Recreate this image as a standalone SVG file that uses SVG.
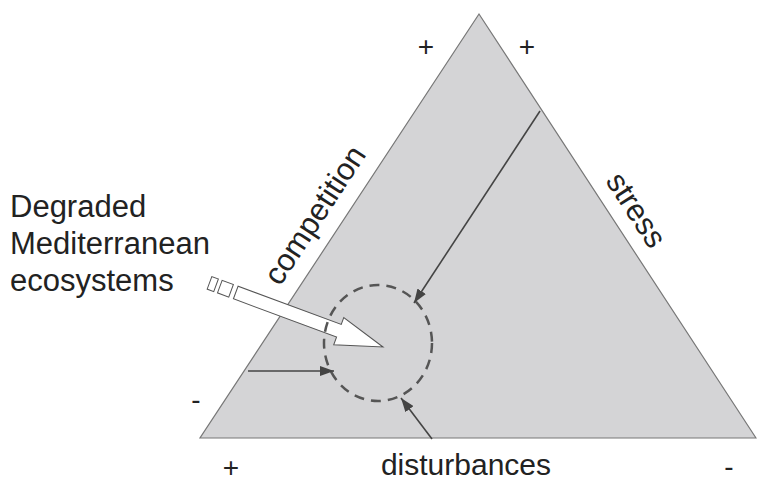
<svg xmlns="http://www.w3.org/2000/svg" width="757" height="482" viewBox="0 0 757 482">
<style>
.lbl{font-family:"Liberation Sans",Arial,sans-serif;fill:#222}
.sgn{font-family:"Liberation Sans",Arial,sans-serif;fill:#222;font-size:28px;text-anchor:middle}
.conn{stroke:#444;stroke-width:1.6;fill:none;marker-end:url(#ah)}
</style>
<defs>
<marker id="ah" viewBox="0 0 14 10" refX="14" refY="5" markerWidth="14" markerHeight="10" markerUnits="userSpaceOnUse" orient="auto">
<path d="M0,0 L14,5 L0,10 Z" fill="#444"/>
</marker>
</defs>
<rect width="757" height="482" fill="#fff"/>
<g id="triangle">
<polygon points="479,14 200,438 756,438" fill="#d4d4d6" stroke="#777" stroke-width="1.2"/>
</g>
<g id="labels">
<text class="lbl" x="10" y="217" font-size="31">Degraded</text>
<text class="lbl" x="10" y="254" font-size="31">Mediterranean</text>
<text class="lbl" x="10" y="291" font-size="31">ecosystems</text>
<text class="lbl" font-size="31" transform="translate(280,287) rotate(-56.7)">competition</text>
<text class="lbl" font-size="31" transform="translate(605,181) rotate(56.8)">stress</text>
<text class="lbl" x="466" y="475" font-size="30" text-anchor="middle">disturbances</text>
<text class="sgn" x="426" y="56">+</text>
<text class="sgn" x="527" y="56">+</text>
<text class="sgn" x="196" y="409">-</text>
<text class="sgn" x="231" y="477">+</text>
<text class="sgn" x="729" y="476">-</text>
</g>
<g id="block-arrow" transform="translate(383,347) rotate(20.3)" fill="#fff" stroke="#555" stroke-width="1">
<path d="M0,0 L-47,-14 L-47,-6.7 L-157,-6.7 L-157,6.7 L-47,6.7 L-47,15 Z"/>
<rect x="-174" y="-6.7" width="12" height="13.4"/>
<rect x="-185" y="-6.7" width="7" height="13.4"/>
</g>
<g id="zone">
<ellipse cx="378" cy="343" rx="54" ry="58" fill="none" stroke="#555" stroke-width="2.5" stroke-dasharray="10 7"/>
</g>
<g id="connectors">
<line class="conn" x1="540" y1="111" x2="414" y2="303"/>
<line class="conn" x1="248" y1="371" x2="334" y2="371"/>
<line class="conn" x1="432" y1="439" x2="401" y2="398"/>
</g>
</svg>
